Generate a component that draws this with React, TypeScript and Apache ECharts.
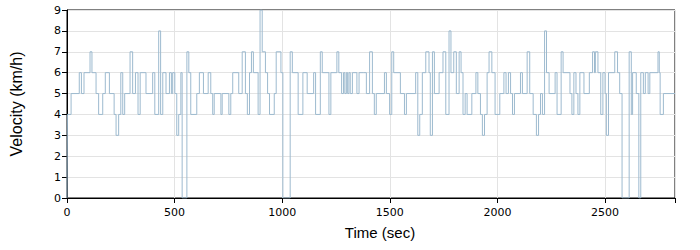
import React, { useEffect, useRef } from "react";
import * as echarts from "echarts";

// Step change points: time (sec) at which velocity changes, and the new velocity (km/h)
const changeTimes: number[] = [
  0, 2, 19, 57, 67, 79, 107, 116, 135, 147, 166, 178, 197, 219, 228, 240, 250, 259, 268, 293,
  305, 318, 330, 340, 367, 398, 408, 426, 435, 445, 460,
  476, 485, 491, 501, 510, 519, 529, 535, 557, 566, 575, 603, 615, 634, 656, 668, 677, 684, 715,
  721, 752, 761, 770, 798, 814, 829, 838, 848, 857, 866, 888, 897, 907, 922, 932, 941,
  963, 972, 994, 1003, 1037, 1047, 1074, 1096, 1116, 1146, 1155, 1177, 1186, 1217, 1226, 1254,
  1263, 1276, 1285, 1291, 1298, 1304, 1310, 1316, 1326, 1347, 1357, 1379, 1391,
  1406, 1419, 1428, 1437, 1475, 1484, 1499, 1509, 1518, 1549, 1568, 1577, 1620, 1630, 1639, 1651,
  1667, 1682, 1688, 1698, 1707, 1729, 1747, 1760, 1775, 1784, 1797, 1809, 1822, 1831, 1840, 1850,
  1859, 1881, 1900, 1909, 1921, 1930, 1940, 1952, 1961, 1974, 1989, 2011, 2030, 2040, 2051, 2061,
  2070, 2079, 2107, 2116, 2138, 2150, 2166, 2181, 2191, 2200, 2209, 2219, 2228, 2240, 2268, 2277,
  2296, 2305, 2337, 2346, 2355, 2365, 2374, 2383, 2402, 2427, 2442, 2451, 2455, 2467, 2480, 2490,
  2500, 2506, 2516, 2545, 2558, 2568, 2579, 2612, 2622, 2628, 2645, 2657, 2666, 2678, 2687, 2700,
  2708, 2746, 2752, 2756, 2771, 2825,
];
const velocities: number[] = [
  0, 4, 5, 6, 5, 6, 7, 6, 5, 4, 5, 6, 5, 4, 3, 4, 6, 4, 5, 7,
  5, 6, 4, 6, 5, 6, 4, 8, 4, 6, 5,
  6, 5, 6, 5, 3, 4, 6, 0, 7, 6, 4, 5, 6, 5, 6, 5, 4, 5, 4,
  5, 4, 5, 6, 5, 7, 5, 4, 6, 7, 6, 4, 9, 7, 6, 5, 4,
  5, 7, 6, 0, 7, 6, 4, 6, 5, 6, 4, 7, 6, 4, 6, 7,
  6, 5, 6, 5, 6, 5, 6, 5, 6, 5, 6, 6, 5,
  7, 5, 4, 5, 6, 5, 4, 7, 6, 5, 4, 5, 6, 3, 4, 6,
  7, 6, 3, 7, 5, 6, 7, 4, 8, 6, 7, 5, 7, 6, 4, 5,
  4, 5, 6, 5, 4, 3, 4, 6, 7, 6, 4, 5, 6, 5, 6, 5,
  4, 5, 6, 5, 7, 5, 4, 3, 4, 5, 4, 8, 6, 5, 6, 4,
  7, 6, 5, 4, 6, 5, 4, 6, 5, 6, 7, 6, 7, 6, 4, 6,
  5, 3, 6, 7, 6, 5, 0, 7, 4, 6, 5, 0, 6, 5, 6, 5,
  6, 7, 6, 4, 5, 5,
];

const xTicks: number[] = [0, 500, 1000, 1500, 2000, 2500];
const xMax = 2825;

export default function App() {
  const ref = useRef<HTMLDivElement>(null);
  useEffect(() => {
    if (!ref.current) return;
    const chart = echarts.init(ref.current, null, { renderer: "svg" });
    const data = changeTimes.map((t, i) => [t, velocities[i]]);
    chart.setOption({
      animation: false,
      grid: {
        left: 67,
        right: 25,
        top: 10,
        bottom: 52,
        show: true,
        borderColor: "#000",
        borderWidth: 1,
      },
      xAxis: {
        type: "value",
        min: 0,
        max: xMax,
        interval: 500,
        name: "Time (sec)",
        nameLocation: "middle",
        nameGap: 27,
        nameTextStyle: {
          fontFamily: "Liberation Sans",
          fontSize: 15,
          color: "#000",
          padding: [0, 0, 0, 18],
        },
        axisLine: { show: true, onZero: false, lineStyle: { color: "#000", width: 1 } },
        axisTick: { show: true, length: 5, lineStyle: { color: "#000" } },
        axisLabel: {
          color: "#000",
          fontFamily: "DejaVu Sans",
          fontSize: 11,
          margin: 9,
          formatter: (v: number) => (xTicks.includes(v) ? String(v) : ""),
        },
        splitLine: { show: true, lineStyle: { color: "#e3e3e3", width: 1 } },
      },
      yAxis: {
        type: "value",
        min: 0,
        max: 9,
        interval: 1,
        name: "Velocity (km/h)",
        nameLocation: "middle",
        nameGap: 43,
        nameTextStyle: { fontFamily: "Liberation Sans", fontSize: 16, color: "#000" },
        axisLine: { show: true, lineStyle: { color: "#000", width: 1 } },
        axisTick: { show: true, length: 5, lineStyle: { color: "#000" } },
        axisLabel: { color: "#000", fontFamily: "DejaVu Sans", fontSize: 11, margin: 6 },
        splitLine: { show: true, lineStyle: { color: "#e3e3e3", width: 1 } },
      },
      series: [
        {
          type: "line",
          step: "end",
          data,
          showSymbol: false,
          symbol: "none",
          lineStyle: { color: "#9dbacf", width: 1 },
        },
      ],
    });
    return () => chart.dispose();
  }, []);
  return (
    <div
      ref={ref}
      style={{ position: "absolute", left: 0, top: 0, width: 700, height: 250, background: "#fff" }}
    />
  );
}
